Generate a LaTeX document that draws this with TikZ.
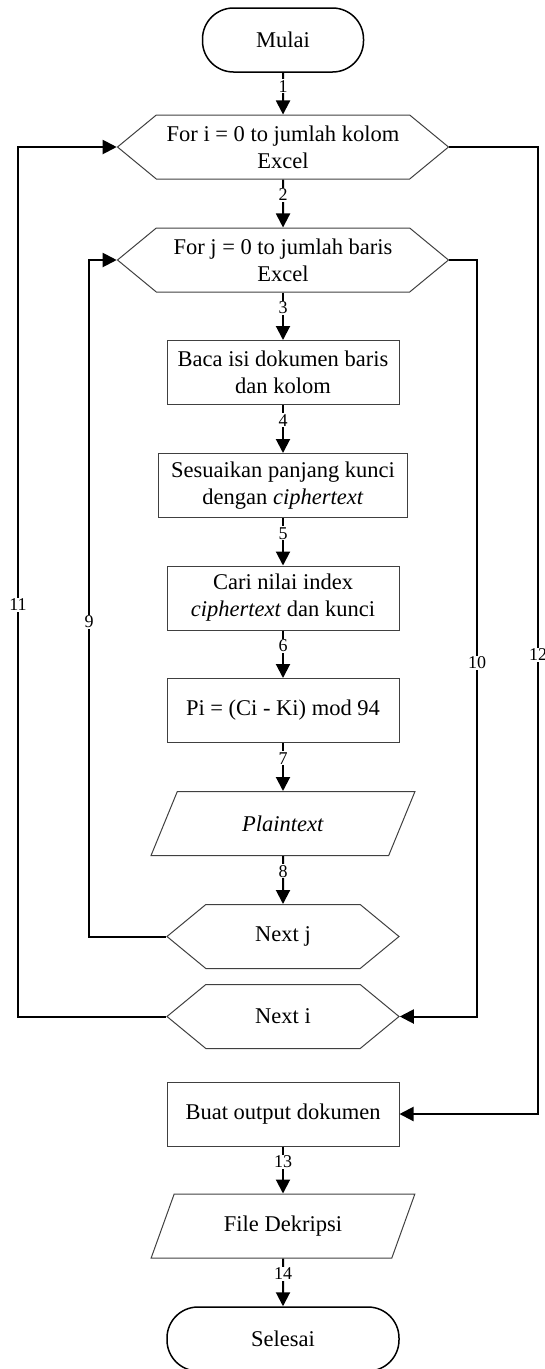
\documentclass[tikz,border=0pt]{standalone}
\usepackage{fontspec}
\setmainfont{Liberation Serif}
\usetikzlibrary{shapes.geometric, shapes.symbols, arrows.meta}

\begin{document}
\begin{tikzpicture}[
        x=1pt, y=-1pt,
        terminal/.style={rectangle, draw, line width=1.5pt, rounded corners=31pt, minimum height=64pt, align=center, font=\fontsize{22.5}{27}\selectfont},
        proses/.style={rectangle, draw=black!75, line width=1pt, minimum width=232pt, minimum height=64pt, align=center, font=\fontsize{22.5}{27}\selectfont},
        ulang/.style={signal, signal to=east and west, signal pointer angle=79, draw=black!75, line width=1pt, minimum height=64pt, align=center, font=\fontsize{22.5}{27}\selectfont},
        data/.style={trapezium, trapezium left angle=64, trapezium right angle=116, trapezium stretches=true, draw=black!75, line width=1pt, minimum height=64pt, minimum width=264pt, align=center, font=\fontsize{22.5}{27}\selectfont},
        panah/.style={-{Triangle[length=14pt, width=14pt]}, line width=2pt},
        nomor/.style={fill=white, inner sep=1pt, font=\fontsize{18}{20}\selectfont}
    ]
        \useasboundingbox (0,0) rectangle (545,1369);

        \node[terminal, minimum width=161pt] (mulai) at (283,40) {Mulai};
        \node[ulang, minimum width=331pt] (fori) at (283,147) {For i = 0 to jumlah kolom\\Excel};
        \node[ulang, minimum width=331pt] (forj) at (283,260) {For j = 0 to jumlah baris\\Excel};
        \node[proses] (baca) at (283,372.5) {Baca isi dokumen baris\\dan kolom};
        \node[proses, minimum width=249pt] (sesuai) at (283,485.5) {Sesuaikan panjang kunci\\dengan \textit{ciphertext}};
        \node[proses] (cari) at (283,598) {Cari nilai index\\\textit{ciphertext} dan kunci};
        \node[proses] (hitung) at (283,710.5) {Pi = (Ci - Ki) mod 94};
        \node[data] (plain) at (283,823.5) {\textit{Plaintext}};
        \node[ulang, minimum width=232pt] (nextj) at (283,936.5) {Next j};
        \node[ulang, minimum width=232pt] (nexti) at (283,1016.5) {Next i};
        \node[proses] (buat) at (283,1114) {Buat output dokumen};
        \node[data] (file) at (283,1226) {File Dekripsi};
        \node[terminal, minimum width=232pt] (selesai) at (283,1339) {Selesai};

        \coordinate (kiri) at (18,605);
        \coordinate (kiridalam) at (89,622);
        \coordinate (kanandalam) at (477,663);
        \coordinate (kanan) at (538,655);

        \draw[panah] (mulai) -- node[nomor, pos=0.32] (l1) {1} (fori);
        \draw[panah] (fori) -- node[nomor, pos=0.32] (l2) {2} (forj);
        \draw[panah] (forj) -- node[nomor, pos=0.32] (l3) {3} (baca);
        \draw[panah] (baca) -- node[nomor, pos=0.32] (l4) {4} (sesuai);
        \draw[panah] (sesuai) -- node[nomor, pos=0.32] (l5) {5} (cari);
        \draw[panah] (cari) -- node[nomor, pos=0.32] (l6) {6} (hitung);
        \draw[panah] (hitung) -- node[nomor, pos=0.32] (l7) {7} (plain);
        \draw[panah] (plain) -- node[nomor, pos=0.32] (l8) {8} (nextj);
        \draw[panah] (nextj.west) -| (kiridalam) node[nomor] (l9) {9} |- (forj.west);
        \draw[panah] (forj.east) -| (kanandalam) node[nomor] (l10) {10} |- (nexti.east);
        \draw[panah] (nexti.west) -| (kiri) node[nomor] (l11) {11} |- (fori.west);
        \draw[panah] (fori.east) -| (kanan) node[nomor] (l12) {12} |- (buat.east);
        \draw[panah] (buat) -- node[nomor, pos=0.32] (l13) {13} (file);
        \draw[panah] (file) -- node[nomor, pos=0.32] (l14) {14} (selesai);
    \end{tikzpicture}
\end{document}
